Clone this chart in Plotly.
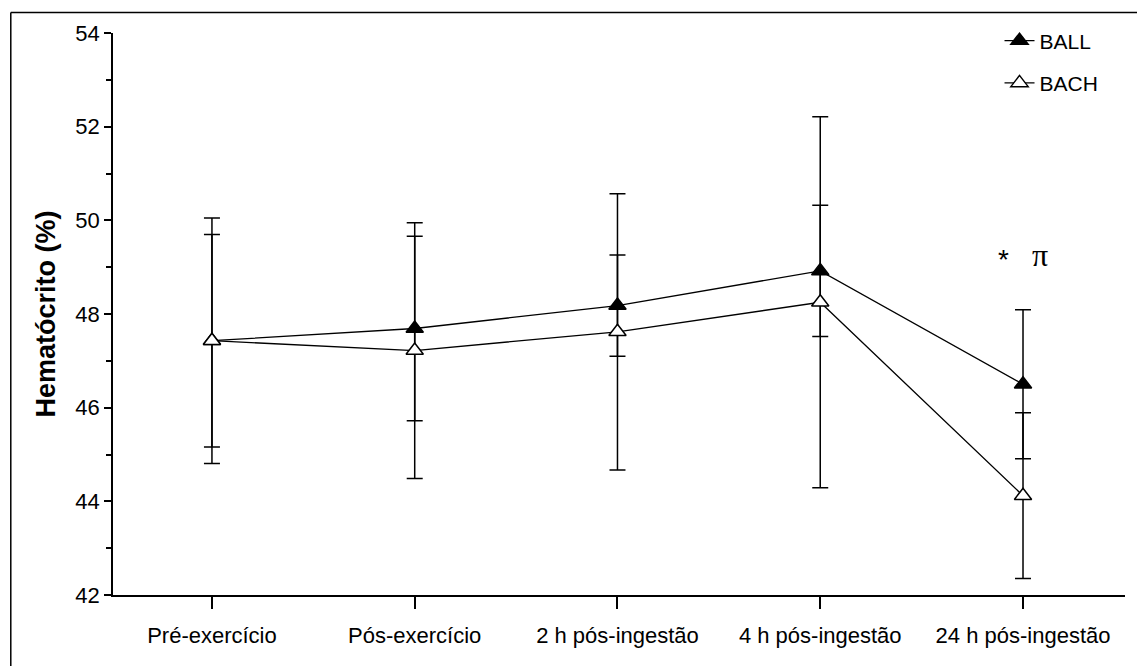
import plotly.graph_objects as go

categories = ["Pré-exercício", "Pós-exercício", "2 h pós-ingestão", "4 h pós-ingestão", "24 h pós-ingestão"]
ball_mean = [47.43, 47.69, 48.18, 48.92, 46.50]
ball_sd = [2.27, 1.97, 1.08, 1.40, 1.59]
bach_mean = [47.43, 47.22, 47.62, 48.25, 44.12]
bach_sd = [2.62, 2.73, 2.95, 3.96, 1.77]
y_ticks = [42, 44, 46, 48, 50, 52, 54]

FONT = "Liberation Sans, Arial, sans-serif"
xi = list(range(len(categories)))

fig = go.Figure()
fig.add_trace(go.Scatter(
    x=xi, y=ball_mean, name="BALL", legendgroup="a", mode="lines+markers",
    line=dict(color="black", width=1.3),
    marker=dict(symbol="triangle-up", size=15, color="black", line=dict(color="black", width=1.5)),
    error_y=dict(type="data", array=ball_sd, visible=True, color="black", thickness=1.5, width=8),
))
fig.add_trace(go.Scatter(
    x=xi, y=bach_mean, name="BACH", legendgroup="b", mode="lines+markers",
    line=dict(color="black", width=1.3),
    marker=dict(symbol="triangle-up", size=15, color="white", line=dict(color="black", width=1.5)),
    error_y=dict(type="data", array=bach_sd, visible=True, color="black", thickness=1.5, width=8),
))

fig.add_annotation(x=4, y=49.16, xref="x", yref="y", text="*", showarrow=False, xshift=-20,
                   font=dict(family=FONT, size=28, color="black"))
fig.add_annotation(x=4, y=49.27, xref="x", yref="y", text="π", showarrow=False, xshift=17,
                   font=dict(family="Liberation Serif, Times New Roman, serif", size=32, color="black"))

# outer frame (left and top)
fig.add_shape(type="line", xref="paper", yref="paper", x0=-0.101, x1=1.03, y0=1.0364, y1=1.0364,
              line=dict(color="black", width=1.5))
fig.add_shape(type="line", xref="paper", yref="paper", x0=-0.101, x1=-0.101, y0=1.0364, y1=-0.2,
              line=dict(color="black", width=1.5))

fig.update_layout(
    width=1137, height=658,
    margin=dict(l=105, r=20, t=21, b=71),
    paper_bgcolor="white", plot_bgcolor="white",
    font=dict(family=FONT, size=22, color="black"),
    showlegend=True,
    legend=dict(x=0.876, y=1.0223, xanchor="left", yanchor="top", traceorder="grouped",
                tracegroupgap=12, font=dict(family=FONT, size=21, color="black"),
                bgcolor="rgba(0,0,0,0)"),
    xaxis=dict(range=[-0.488, 4.503], tickmode="array", tickvals=xi, ticktext=categories,
               showline=True, linecolor="black", linewidth=1.5, ticks="outside", ticklen=12,
               tickwidth=1.5, tickcolor="black", showgrid=False, zeroline=False,
               ticklabelstandoff=8,
               tickfont=dict(family=FONT, size=22, color="black")),
    yaxis=dict(range=[42, 54], tickmode="array", tickvals=y_ticks,
               showline=True, linecolor="black", linewidth=1.5, ticks="outside", ticklen=7,
               tickwidth=1.5, tickcolor="black", showgrid=False, zeroline=False,
               minor=dict(dtick=1, ticks="outside", ticklen=5, tickwidth=1.5, tickcolor="black", showgrid=False),
               tickfont=dict(family=FONT, size=22, color="black"),
               title=dict(text="<b>Hematócrito (%)</b>", standoff=12,
                          font=dict(family=FONT, size=27, color="black"))),
)

fig.write_html("out.html")
